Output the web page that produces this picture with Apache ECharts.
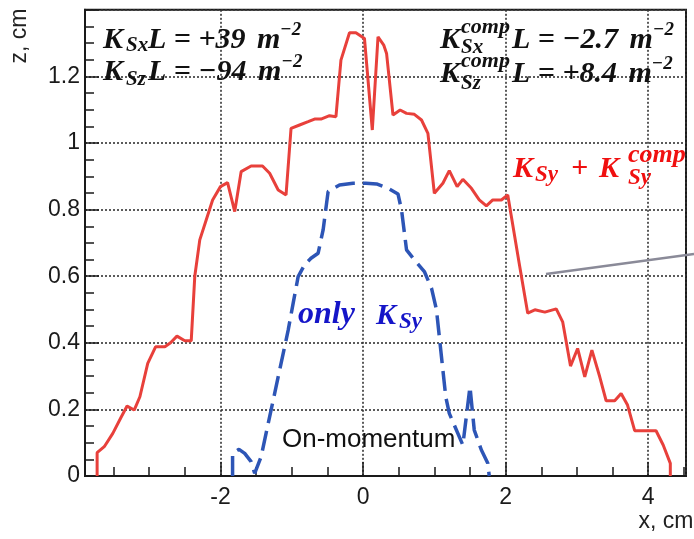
<!DOCTYPE html>
<html><head><meta charset="utf-8">
<script src="https://cdn.jsdelivr.net/npm/echarts@6/dist/echarts.min.js"></script>
<style>html,body{margin:0;padding:0;background:#fff}#c{width:694px;height:539px}</style>
</head><body><div id="c"></div>
<script>
// ---- data ----
const redX = [-3.73,-3.73,-3.63,-3.51,-3.39,-3.31,-3.21,-3.13,-3.02,-2.91,-2.78,-2.70,-2.61,-2.50,-2.41,-2.36,-2.29,-2.20,-2.11,-2.00,-1.90,-1.80,-1.71,-1.57,-1.41,-1.31,-1.19,-1.08,-1.01,-0.89,-0.77,-0.68,-0.59,-0.47,-0.38,-0.31,-0.19,-0.10,0.02,0.13,0.21,0.29,0.33,0.42,0.52,0.61,0.72,0.82,0.91,1.00,1.12,1.21,1.32,1.40,1.52,1.63,1.73,1.82,1.94,2.03,2.19,2.31,2.41,2.55,2.71,2.80,2.91,3.01,3.11,3.21,3.32,3.41,3.53,3.62,3.71,3.81,3.95,4.11,4.21,4.31,4.31];
const redY = [0,0.07,0.088,0.128,0.178,0.21,0.198,0.238,0.338,0.388,0.388,0.40,0.42,0.406,0.406,0.60,0.709,0.769,0.829,0.869,0.881,0.794,0.914,0.931,0.931,0.909,0.859,0.844,1.044,1.054,1.064,1.072,1.072,1.082,1.079,1.249,1.331,1.331,1.314,1.039,1.319,1.294,1.269,1.084,1.099,1.089,1.086,1.069,1.029,0.849,0.879,0.917,0.869,0.891,0.864,0.829,0.811,0.829,0.829,0.844,0.639,0.489,0.499,0.492,0.502,0.463,0.33,0.383,0.298,0.378,0.298,0.226,0.226,0.248,0.213,0.136,0.136,0.136,0.093,0.038,0];
const blueX = [-1.83,-1.83,-1.74,-1.66,-1.57,-1.52,-1.43,-1.29,-1.17,-1.05,-0.98,-0.91,-0.82,-0.73,-0.63,-0.56,-0.49,-0.33,-0.14,0.04,0.19,0.35,0.49,0.54,0.61,0.72,0.86,0.96,1.03,1.10,1.16,1.21,1.40,1.50,1.56,1.66,1.75,1.77];
const blueY = [0,0.068,0.08,0.068,0.043,0.008,0.058,0.198,0.318,0.438,0.519,0.599,0.634,0.654,0.669,0.739,0.854,0.874,0.879,0.879,0.877,0.864,0.847,0.799,0.679,0.649,0.614,0.564,0.499,0.358,0.238,0.188,0.093,0.268,0.138,0.078,0.038,0];
const xMinorTicks = [-3.5,-3,-2.5,-1.5,-1,-0.5,0.5,1,1.5,2.5,3,3.5,4.5];
const xRange = [-3.9, 4.53];
const yRange = [0, 1.4];

// ---- styles ----
const SERIF = "'Liberation Serif', 'DejaVu Serif', serif";
const SANS = "'Liberation Sans', Arial, sans-serif";
function rich(color) {
  const base = {fill: color, fontFamily: SERIF, fontStyle: 'italic', fontWeight: 'bold'};
  const k = Object.assign({}, base, {fontSize: 30, lineHeight: 34, verticalAlign: 'bottom'});
  return {
    k: k,
    m: Object.assign({}, k, {padding: [0, 0, 0, 4]}),
    g25: Object.assign({}, k, {width: 25}),
    g28: Object.assign({}, k, {width: 28}),
    g52: Object.assign({}, k, {width: 52}),
    sup: Object.assign({}, base, {fontSize: 19, lineHeight: 16, verticalAlign: 'top'}),
    op: Object.assign({}, k, {padding: [0, 11, 0, 10]}),
    only: Object.assign({}, k, {fontSize: 32, width: 78})
  };
}
function txt(x, y, text, color) {
  return {type: 'text', x: x, y: y, silent: true, z: 100,
    style: {text: text, rich: rich(color), verticalAlign: 'top', align: 'left'}};
}
function plain(x, y, text, style, extra) {
  return Object.assign({type: 'text', x: x, y: y, silent: true, z: 100,
    style: Object.assign({text: text, align: 'left', verticalAlign: 'middle'}, style)}, extra || {});
}
const mathStyle = (color, size) => ({fill: color, fontFamily: SERIF, fontStyle: 'italic', fontWeight: 'bold', fontSize: size});

const black = '#111';
const red = '#f01010';
const blue = '#1515c8';
const graphics = [
  // left block
  txt(103, 21, '{k|K}{g25| }{k|L = +39}{m| m}{sup|−2}', black),
  txt(103, 53, '{k|K}{g25| }{k|L = −94}{m| m}{sup|−2}', black),
  plain(126, 46, 'Sx', mathStyle(black, 21)),
  plain(126, 80, 'Sz', mathStyle(black, 21)),
  // right block
  txt(440, 21, '{k|K}{g52| }{k|L = −2.7}{m| m}{sup|−2}', black),
  txt(440, 55, '{k|K}{g52| }{k|L = +8.4}{m| m}{sup|−2}', black),
  plain(461, 27, 'comp', mathStyle(black, 22)),
  plain(461, 48, 'Sx', mathStyle(black, 21)),
  plain(461, 61, 'comp', mathStyle(black, 22)),
  plain(461, 84, 'Sz', mathStyle(black, 21)),
  // red label
  txt(513, 150, '{k|K}{g28| }{op|+}{k|K}', red),
  plain(535, 175, 'Sy', mathStyle(red, 23)),
  plain(628, 155, 'comp', mathStyle(red, 26)),
  plain(628, 178, 'Sy', mathStyle(red, 23)),
  // blue label
  txt(298, 297, '{only|only}{k|K}', blue),
  plain(399, 322, 'Sy', mathStyle(blue, 23)),
  plain(282, 440, 'On-momentum', {fill: '#111', fontFamily: SANS, fontSize: 26}),
  plain(20, 36, 'z, cm', {fill: '#222', fontFamily: SANS, fontSize: 23, align: 'center'}, {rotation: Math.PI / 2}),
  plain(666, 522, 'x, cm', {fill: '#222', fontFamily: SANS, fontSize: 23, align: 'center'}),
  {type: 'line', silent: true, z: 90, shape: {x1: 546, y1: 274, x2: 694, y2: 254}, style: {stroke: '#8a8a98', lineWidth: 2.5}}
];

const gridLine = {show: true, lineStyle: {color: '#333', width: 1.6, type: [2, 2]}};
const axisLbl = {fontFamily: SANS, fontSize: 23, color: '#1a1a1a'};

const option = {
  animation: false,
  backgroundColor: '#fff',
  grid: {left: 85, right: 8, top: 9.8, bottom: 63, show: true, borderColor: '#1a1a1a', borderWidth: 2, containLabel: false},
  xAxis: [
    {type: 'value', min: xRange[0], max: xRange[1], splitNumber: 4, position: 'bottom',
     axisLine: {show: true, onZero: false, lineStyle: {color: '#1a1a1a', width: 2}},
     axisTick: {show: true, inside: true, length: 14, lineStyle: {color: '#1a1a1a', width: 1.5}},
     axisLabel: Object.assign({margin: 10, showMinLabel: false, showMaxLabel: false}, axisLbl),
     splitLine: gridLine},
    {type: 'value', min: xRange[0], max: xRange[1], position: 'bottom', offset: 0,
     axisLine: {show: false},
     axisTick: {show: true, inside: true, length: 9, customValues: xMinorTicks, lineStyle: {color: '#1a1a1a', width: 1.5}},
     axisLabel: {show: false},
     splitLine: {show: false}}
  ],
  yAxis: {type: 'value', min: yRange[0], max: yRange[1], interval: 0.2,
    axisLine: {show: true, onZero: false, lineStyle: {color: '#1a1a1a', width: 2}},
    axisTick: {show: true, inside: true, length: 14, lineStyle: {color: '#1a1a1a', width: 1.5}},
    minorTick: {show: true, splitNumber: 4, length: 9, lineStyle: {color: '#1a1a1a', width: 1.5}},
    axisLabel: Object.assign({margin: 5, showMaxLabel: false}, axisLbl),
    splitLine: gridLine},
  series: [
    {type: 'line', name: 'red', xAxisIndex: 0, showSymbol: false, symbol: 'none', z: 5,
     data: redX.map((x, i) => [x, redY[i]]),
     lineStyle: {color: '#e8403b', width: 3}},
    {type: 'line', name: 'blue', xAxisIndex: 0, showSymbol: false, symbol: 'none', z: 4,
     data: blueX.map((x, i) => [x, blueY[i]]),
     lineStyle: {color: '#2d55b6', width: 3.5, type: [20, 8]}}
  ],
  graphic: {elements: graphics}
};
const chart = echarts.init(document.getElementById('c'));
chart.setOption(option);
</script></body></html>
